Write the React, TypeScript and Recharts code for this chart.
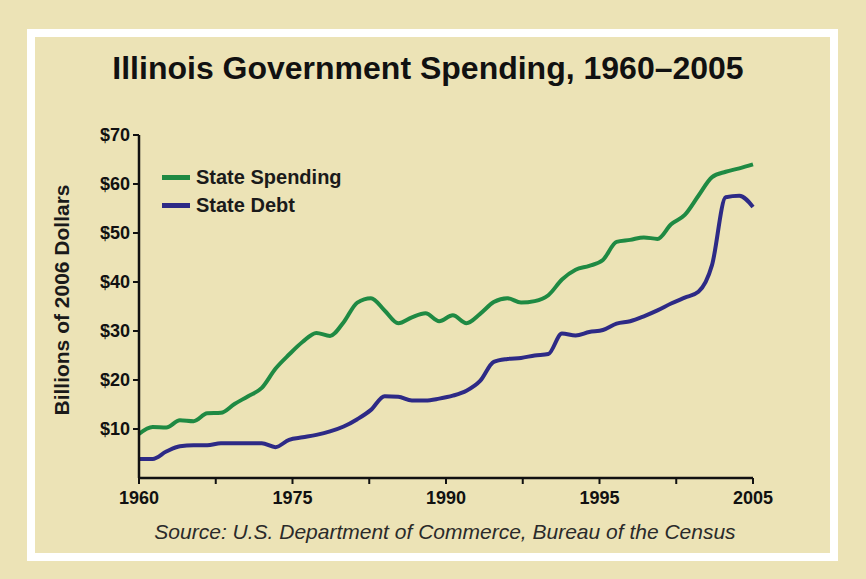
import { LineChart, Line, XAxis, YAxis } from "recharts";

const years = [
  1960, 1961, 1962, 1963, 1964, 1965, 1966, 1967, 1968, 1969,
  1970, 1971, 1972, 1973, 1974, 1975, 1976, 1977, 1978, 1979,
  1980, 1981, 1982, 1983, 1984, 1985, 1986, 1987, 1988, 1989,
  1990, 1991, 1992, 1993, 1994, 1995, 1996, 1997, 1998, 1999,
  2000, 2001, 2002, 2003, 2004, 2005,
];

// billions of 2006 dollars
const stateSpending = [
  9.0, 10.4, 10.3, 11.8, 11.6, 13.2, 13.3, 15.1, 16.7, 18.4,
  22.3, 25.2, 27.8, 29.6, 29.0, 31.8, 35.8, 36.7, 34.2, 31.6,
  32.8, 33.6, 32.0, 33.2, 31.6, 33.5, 35.9, 36.7, 35.8, 36.1,
  37.3, 40.5, 42.5, 43.3, 44.5, 48.2, 48.6, 49.1, 48.8, 51.8,
  53.7, 57.6, 61.4, 62.5, 63.2, 64.0,
];

const stateDebt = [
  3.9, 3.9, 5.4, 6.5, 6.7, 6.7, 7.1, 7.1, 7.1, 7.1,
  6.3, 7.8, 8.3, 8.8, 9.5, 10.5, 12.0, 13.9, 16.7, 16.6,
  15.8, 15.8, 16.2, 16.8, 17.8, 19.8, 23.7, 24.3, 24.5, 25.0,
  25.3, 29.5, 29.1, 29.8, 30.2, 31.5, 32.0, 33.0, 34.2, 35.6,
  36.8, 38.0, 43.5, 57.3, 57.6, 55.3,
];

// the original axis is labelled unevenly; keep it as printed
const xTickLabels = ["1960", "", "1975", "", "1990", "", "1995", "", "2005"];
const yTicks = [10, 20, 30, 40, 50, 60, 70];

const seriesNames = ["State Spending", "State Debt"];
const seriesColors = ["#1f8a43", "#2d2a86"];

const BG = "#ece3b6";
const FONT = "'Liberation Sans', Arial, sans-serif";

const chartData = years.map((year, i) => ({
  year,
  spending: stateSpending[i],
  debt: stateDebt[i],
}));

const xTicks = xTickLabels.map((_, i) => 1960 + (i * 45) / 8);

function LegendBox() {
  return (
    <div style={{ position: "absolute", left: 162, top: 163 }}>
      {seriesNames.map((name, i) => (
        <div
          key={name}
          style={{ display: "flex", alignItems: "center", height: 28 }}
        >
          <div
            style={{
              width: 28,
              height: 5,
              background: seriesColors[i],
              marginRight: 6,
            }}
          />
          <span style={{ fontSize: 20, fontWeight: 700, color: "#1a1a1a" }}>
            {name}
          </span>
        </div>
      ))}
    </div>
  );
}

export default function App() {
  return (
    <div
      style={{
        position: "fixed",
        left: 0,
        top: 0,
        width: 866,
        height: 579,
        background: BG,
        fontFamily: FONT,
        overflow: "hidden",
      }}
    >
      {/* white frame */}
      <div
        style={{
          position: "absolute",
          left: 27,
          top: 29,
          width: 811,
          height: 532,
          border: "8px solid #ffffff",
          boxSizing: "border-box",
        }}
      />

      <div
        style={{
          position: "absolute",
          left: 0,
          top: 50,
          width: 856,
          textAlign: "center",
          fontSize: 32,
          fontWeight: 700,
          color: "#111",
        }}
      >
        Illinois Government Spending, 1960–2005
      </div>

      <div
        style={{
          position: "absolute",
          left: 62,
          top: 300,
          transform: "translate(-50%, -50%) rotate(-90deg)",
          whiteSpace: "nowrap",
          fontSize: 21,
          fontWeight: 700,
          color: "#1a1a1a",
        }}
      >
        Billions of 2006 Dollars
      </div>

      <div style={{ position: "absolute", left: 0, top: 0 }}>
        <LineChart
          width={866}
          height={579}
          data={chartData}
          margin={{ top: 135, right: 113, bottom: 71, left: 79 }}
          style={{ fontFamily: FONT }}
        >
          <XAxis
            dataKey="year"
            type="number"
            domain={[1960, 2005]}
            ticks={xTicks}
            interval={0}
            height={30}
            tickFormatter={(_v: number, i: number) => xTickLabels[i]}
            axisLine={{ stroke: "#111", strokeWidth: 2.5 }}
            tickLine={{ stroke: "#111", strokeWidth: 2 }}
            tickSize={6}
            tickMargin={7}
            tick={{ fill: "#111", fontSize: 18, fontWeight: 700 }}
          />
          <YAxis
            type="number"
            domain={[0, 70]}
            ticks={yTicks}
            width={60}
            tickFormatter={(v: number) => `$${v}`}
            axisLine={{ stroke: "#111", strokeWidth: 2.5 }}
            tickLine={{ stroke: "#111", strokeWidth: 2 }}
            tickSize={6}
            tickMargin={3}
            tick={{ fill: "#111", fontSize: 18, fontWeight: 700 }}
          />
          <Line
            type="monotone"
            dataKey="spending"
            name={seriesNames[0]}
            stroke={seriesColors[0]}
            strokeWidth={4}
            dot={false}
            isAnimationActive={false}
          />
          <Line
            type="monotone"
            dataKey="debt"
            name={seriesNames[1]}
            stroke={seriesColors[1]}
            strokeWidth={4}
            dot={false}
            isAnimationActive={false}
          />
        </LineChart>
      </div>

      <LegendBox />

      <div
        style={{
          position: "absolute",
          left: 0,
          top: 520,
          width: 890,
          textAlign: "center",
          fontSize: 21,
          fontStyle: "italic",
          color: "#2a2a2a",
        }}
      >
        Source: U.S. Department of Commerce, Bureau of the Census
      </div>
    </div>
  );
}
